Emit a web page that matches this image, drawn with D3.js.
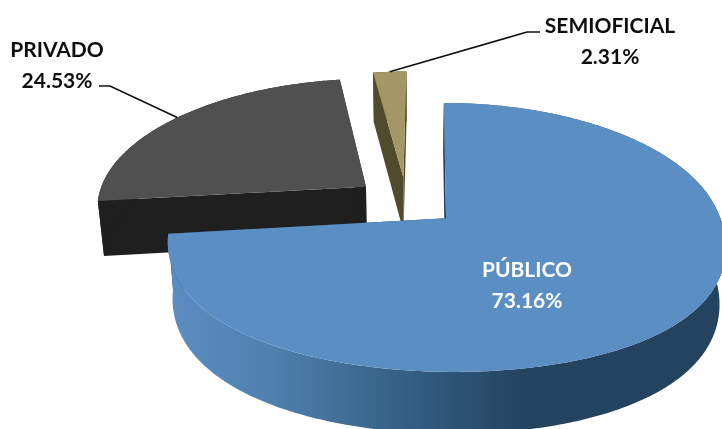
<!DOCTYPE html>
<html>
<head>
<meta charset="utf-8">
<script src="https://cdn.jsdelivr.net/npm/d3@7"></script>
<style>
    html, body { margin: 0; padding: 0; background: #fff; overflow: hidden; }
    text { font-family: Lato, "Open Sans", sans-serif; font-weight: 700; font-size: 21px; }
</style>
</head>
<body>
<div id="chart"></div>
<script>
// Data
const categories = ['PÚBLICO', 'PRIVADO', 'SEMIOFICIAL'];
const shares = [73.16, 24.53, 2.31];

// Colors per slice
const topColors = ['#5b8fc4', '#505050', '#a39765'];
const sideColors = ['url(#blueWall)', '#1f1f1f', '#4f4b2c'];
const faceColors = ['#1f3f5e', '#1f1f1f', '#4f4b2c'];

// Graph configuration
const cfg = {
    width: 722, height: 429,
    cx: 406.5, cy: 201.5,     // where the unexploded center lands
    sx: 269, sy: 127,         // disk radius on screen
    persp: 0.14,              // foreshortening along the depth axis
    bulge: 0.09,              // the front of the disk is drawn a little wider
    tilt: 0.025,              // slight lean of the whole disk
    explode: 0.195,
    depth: 55,
    bottomScale: 0.98
};

const svg = d3.select('#chart').append('svg')
    .attr('width', cfg.width)
    .attr('height', cfg.height)
    .attr('viewBox', '0 0 ' + cfg.width + ' ' + cfg.height);

const defs = svg.append('defs');

// Wall shading runs left to right
const wallStops = [[0, '#5b8dc1'], [0.18, '#4f80ae'], [0.39, '#36648a'], [0.64, '#24435f'], [1, '#24435f']];
const grad = defs.append('linearGradient')
    .attr('id', 'blueWall')
    .attr('gradientUnits', 'userSpaceOnUse')
    .attr('x1', 172).attr('x2', 722).attr('y1', 0).attr('y2', 0);
wallStops.forEach(function(s) {
    grad.append('stop').attr('offset', s[0]).attr('stop-color', s[1]);
});

// The reference is a slightly soft raster, text especially
defs.append('filter').attr('id', 'soft')
    .append('feGaussianBlur').attr('stdDeviation', 0.4);

// Disk coordinates to screen, on the top (z=0) or bottom (z=1) of the slab
function project(u, v, z) {
    const w = 1 + cfg.persp * v;
    const f = z ? cfg.bottomScale : 1;
    const widen = v < 0 ? 1 + cfg.bulge * v * v : 1;
    const dy = cfg.sy * v / w;
    return [
        cfg.cx + f * cfg.sx * u * widen / w + cfg.tilt * dy,
        cfg.cy - f * dy + (z ? cfg.depth / w : 0)
    ];
}

const pie = d3.pie().sort(null).value(function(d) { return d; });
const slices = pie(shares);

function apex(d) {
    const m = (d.startAngle + d.endAngle) / 2;
    return [cfg.explode * Math.sin(m), cfg.explode * Math.cos(m)];
}

function rim(d, a, z) {
    const o = apex(d);
    return project(o[0] + Math.sin(a), o[1] + Math.cos(a), z);
}

function arcPoints(d, z) {
    const n = Math.ceil((d.endAngle - d.startAngle) / 0.01);
    return d3.range(n + 1).map(function(i) {
        return rim(d, d.startAngle + (d.endAngle - d.startAngle) * i / n, z);
    });
}

const line = d3.line();
const closed = function(pts) { return line(pts) + 'Z'; };

// Back slices first, the blue one sits in front of both
const g = svg.append('g');
[1, 2, 0].forEach(function(i) {
    const d = slices[i];
    const o = apex(d);
    const centerTop = project(o[0], o[1], 0);
    const centerBot = project(o[0], o[1], 1);
    const sg = g.append('g').attr('class', 'slice');

    // Radial faces
    [d.startAngle, d.endAngle].forEach(function(a) {
        sg.append('path')
            .attr('d', closed([centerTop, rim(d, a, 0), rim(d, a, 1), centerBot]))
            .attr('fill', faceColors[i]);
    });

    // Outer wall
    sg.append('path')
        .attr('d', closed(arcPoints(d, 0).concat(arcPoints(d, 1).reverse())))
        .attr('fill', sideColors[i]);

    // Top
    sg.append('path')
        .attr('d', closed([centerTop].concat(arcPoints(d, 0))))
        .attr('fill', topColors[i]);
});

// Leader lines start on the rim at the middle of the slice
function midRim(d) { return rim(d, (d.startAngle + d.endAngle) / 2, 0); }

const leader = [
    { i: 1, elbow: [110, 86], end: [99, 86] },
    { i: 2, elbow: [527, 32], end: [540, 32] }
];
svg.append('g').attr('filter', 'url(#soft)').selectAll('path')
    .data(leader)
    .enter().append('path')
    .attr('d', function(l) { return line([midRim(slices[l.i]), l.elbow, l.end]); })
    .attr('fill', 'none')
    .attr('stroke', '#111')
    .attr('stroke-width', 1.6);

// Labels
const labels = [
    { i: 0, x: 527, y: 277, fill: '#fff' },
    { i: 1, x: 57, y: 57, fill: '#111' },
    { i: 2, x: 610, y: 33, fill: '#111' }
];
const labelG = svg.append('g').attr('filter', 'url(#soft)');
labels.forEach(function(l) {
    const t = labelG.append('text')
        .attr('text-anchor', 'middle')
        .attr('fill', l.fill);
    t.append('tspan').attr('x', l.x).attr('y', l.y).text(categories[l.i]);
    t.append('tspan').attr('x', l.x).attr('y', l.y + 30.5).text(shares[l.i].toFixed(2) + '%');
});
</script>
</body>
</html>
